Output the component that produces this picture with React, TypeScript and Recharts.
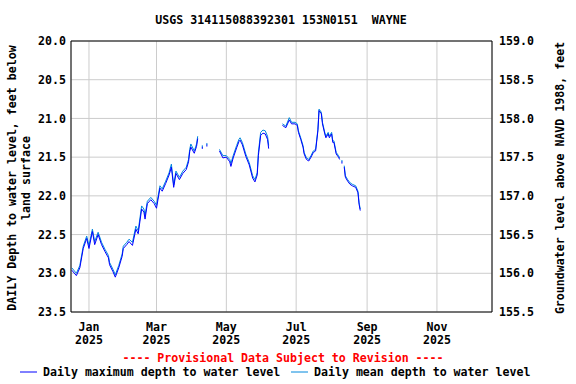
import React from 'react';
import {
  ComposedChart,
  Line,
  XAxis,
  YAxis,
  CartesianGrid,
  ReferenceLine,
} from 'recharts';

// daily readings, sampled from the hydrograph (depth below land surface, ft)
const DATES = [
  '2024-12-17', '2024-12-21', '2024-12-24', '2024-12-27', '2024-12-30',
  '2025-01-01', '2025-01-04', '2025-01-06', '2025-01-09', '2025-01-12',
  '2025-01-15', '2025-01-18', '2025-01-19', '2025-01-22', '2025-01-24',
  '2025-01-27', '2025-01-30', '2025-01-31', '2025-02-03', '2025-02-05',
  '2025-02-08', '2025-02-11', '2025-02-13', '2025-02-16', '2025-02-18',
  '2025-02-19', '2025-02-21', '2025-02-24', '2025-02-27', '2025-03-01',
  '2025-03-04', '2025-03-06', '2025-03-09', '2025-03-12', '2025-03-14',
  '2025-03-16', '2025-03-18', '2025-03-21', '2025-03-24', '2025-03-27',
  '2025-03-29', '2025-03-30', '2025-03-31', '2025-04-03', '2025-04-05',
  '2025-04-06', '2025-04-08', '2025-04-10', '2025-04-12', '2025-04-14',
  '2025-04-17', '2025-04-25', '2025-04-28', '2025-05-01', '2025-05-04',
  '2025-05-05', '2025-05-07', '2025-05-10', '2025-05-12', '2025-05-13',
  '2025-05-15', '2025-05-18', '2025-05-21', '2025-05-24', '2025-05-26',
  '2025-05-28', '2025-05-29', '2025-05-31', '2025-06-02', '2025-06-04',
  '2025-06-06', '2025-06-07', '2025-06-12', '2025-06-19', '2025-06-22',
  '2025-06-25', '2025-06-27', '2025-06-30', '2025-07-02', '2025-07-03',
  '2025-07-05', '2025-07-07', '2025-07-08', '2025-07-10', '2025-07-12',
  '2025-07-14', '2025-07-16', '2025-07-18', '2025-07-20', '2025-07-21',
  '2025-07-23', '2025-07-24', '2025-07-26', '2025-07-27', '2025-07-29',
  '2025-07-30', '2025-08-01', '2025-08-02', '2025-08-03', '2025-08-05',
  '2025-08-07', '2025-08-08', '2025-08-09', '2025-08-10', '2025-08-11',
  '2025-08-12', '2025-08-13', '2025-08-15', '2025-08-17', '2025-08-19',
  '2025-08-22', '2025-08-24', '2025-08-25', '2025-08-26',
];

const MEAN_DEPTH = [
  22.93, 23.0, 22.9, 22.65, 22.52,
  22.64, 22.43, 22.59, 22.47, 22.6,
  22.69, 22.77, 22.86, 22.95, 23.02,
  22.9, 22.75, 22.65, 22.6, 22.56,
  22.6, 22.39, 22.45, 22.13, 22.17,
  22.25, 22.07, 22.02, 22.07, 22.12,
  21.87, 21.91, 21.81, 21.7, 21.59,
  21.86, 21.68, 21.76, 21.68, 21.63,
  21.53, 21.4, 21.33, 21.42, 21.33,
  21.23, null, 21.36, null, 21.33,
  null, 21.4, 21.48, 21.48, 21.53,
  21.58, 21.48, 21.35, 21.27, 21.25,
  21.31, 21.46, 21.57, 21.74, 21.79,
  21.7, 21.44, 21.18, 21.15, 21.16,
  21.23, 21.35, null, 21.07, 21.1,
  20.99, 21.05, 21.05, 21.07, 21.16,
  21.25, 21.35, 21.44, 21.51, 21.53,
  21.48, 21.42, 21.4, 21.14, 20.88,
  20.92, 21.05, 21.18, 21.23, 21.18,
  21.23, 21.18, 21.29, 21.29, 21.44,
  21.48, 21.51, null, 21.55, null,
  21.61, 21.74, 21.79, 21.83, 21.85,
  21.87, 21.94, 22.09, 22.17,
];

const MAX_DEPTH = [
  22.96, 23.03, 22.93, 22.68, 22.55,
  22.68, 22.46, 22.63, 22.5, 22.63,
  22.72, 22.8, 22.89, 22.98, 23.05,
  22.93, 22.78, 22.68, 22.63, 22.59,
  22.64, 22.43, 22.49, 22.17, 22.21,
  22.3, 22.1, 22.05, 22.1, 22.16,
  21.9, 21.94, 21.84, 21.73, 21.63,
  21.89, 21.71, 21.79, 21.71, 21.66,
  21.56, 21.43, 21.37, 21.45, 21.36,
  21.26, null, 21.38, null, 21.35,
  null, 21.42, 21.51, 21.5, 21.56,
  21.62, 21.51, 21.38, 21.3, 21.28,
  21.34, 21.49, 21.6, 21.77, 21.82,
  21.73, 21.48, 21.22, 21.19, 21.2,
  21.27, 21.39, null, 21.09, 21.12,
  21.02, 21.07, 21.07, 21.09, 21.18,
  21.27, 21.37, 21.46, 21.53, 21.55,
  21.5, 21.44, 21.42, 21.16, 20.9,
  20.94, 21.07, 21.2, 21.25, 21.2,
  21.25, 21.2, 21.31, 21.31, 21.46,
  21.5, 21.53, null, 21.57, null,
  21.63, 21.76, 21.81, 21.85, 21.87,
  21.89, 21.96, 22.11, 22.19,
];

const X_TICK_DATES = ['2025-01-01', '2025-03-01', '2025-05-01', '2025-07-01', '2025-09-01', '2025-11-01'];
const X_TICK_MONTHS = ['Jan', 'Mar', 'May', 'Jul', 'Sep', 'Nov'];
const X_TICK_YEARS = ['2025', '2025', '2025', '2025', '2025', '2025'];
const DEPTH_TICKS = [20, 20.5, 21, 21.5, 22, 22.5, 23, 23.5];
const ELEV_TICKS = [155.5, 156, 156.5, 157, 157.5, 158, 158.5, 159];

const FONT = "'DejaVu Sans Mono', 'Liberation Mono', monospace";
const MAX_COLOR = '#0000ff';
const MEAN_COLOR = '#0088dd';

const dayOf = (s: string) => (Date.parse(s) - Date.parse('2025-01-01')) / 86400000;

const data = DATES.map((d, i) => ({
  day: dayOf(d),
  mean: MEAN_DEPTH[i],
  max: MAX_DEPTH[i],
}));

// single readings with gaps on both sides get drawn as dots
const isolated = (arr: (number | null)[], i: number) =>
  arr[i] != null && arr[i - 1] == null && arr[i + 1] == null;

const makeDot = (arr: (number | null)[], color: string) => (props: any) => {
  const { cx, cy, index } = props;
  if (cx == null || cy == null || !isolated(arr, index)) return <g key={`d-${index}`} />;
  return <rect key={`d-${index}`} x={cx - 0.5} y={cy - 1} width={1} height={2} fill={color} />;
};

const xTicks = X_TICK_DATES.map(dayOf);

const XTick = ({ x, y, payload }: any) => {
  const i = xTicks.indexOf(payload.value);
  return (
    <text x={x} y={y} textAnchor="middle" fontFamily={FONT} fontWeight="bold" fontSize={11.6} fill="#000">
      <tspan x={x} dy={18.5}>{X_TICK_MONTHS[i]}</tspan>
      <tspan x={x} dy={13}>{X_TICK_YEARS[i]}</tspan>
    </text>
  );
};

const tickStyle = { fontFamily: FONT, fontWeight: 'bold', fontSize: 11.6, fill: '#000' };

const App: React.FC = () => {
  return (
    <div style={{ position: 'absolute', left: 0, top: 0, width: 576, height: 384, background: '#fff' }}>
      <ComposedChart
        width={576}
        height={384}
        data={data}
        margin={{ top: 41, right: 0, bottom: 0, left: 0 }}
      >
        <CartesianGrid stroke="#cccccc" strokeWidth={1} />
        <XAxis
          dataKey="day"
          type="number"
          domain={[-15.7, 352.1]}
          ticks={xTicks}
          allowDataOverflow
          height={72}
          tickLine={false}
          tickSize={0}
          tickMargin={0}
          axisLine={{ stroke: '#000' }}
          tick={<XTick />}
        />
        <YAxis
          reversed
          type="number"
          domain={[20, 23.5]}
          ticks={DEPTH_TICKS}
          allowDataOverflow
          width={71}
          tickLine={false}
          tickSize={5}
          tickMargin={0}
          axisLine={{ stroke: '#000' }}
          tick={tickStyle}
          tickFormatter={(v: number) => v.toFixed(1)}
        />
        <YAxis
          yAxisId="right"
          orientation="right"
          type="number"
          domain={[155.5, 159]}
          ticks={ELEV_TICKS}
          allowDataOverflow
          width={84}
          tickLine={false}
          tickSize={7}
          tickMargin={0}
          axisLine={{ stroke: '#000' }}
          tick={tickStyle}
          tickFormatter={(v: number) => v.toFixed(1)}
        />
        <ReferenceLine y={20} stroke="#000" strokeWidth={1} />
        <Line
          type="linear"
          dataKey="mean"
          stroke={MEAN_COLOR}
          strokeWidth={1}
          connectNulls={false}
          dot={makeDot(MEAN_DEPTH, MEAN_COLOR)}
          activeDot={false}
          isAnimationActive={false}
        />
        <Line
          type="linear"
          dataKey="max"
          stroke={MAX_COLOR}
          strokeWidth={1}
          connectNulls={false}
          dot={makeDot(MAX_DEPTH, MAX_COLOR)}
          activeDot={false}
          isAnimationActive={false}
        />
      </ComposedChart>
      <svg
        width={576}
        height={384}
        style={{ position: 'absolute', left: 0, top: 0, pointerEvents: 'none' }}
        fontFamily={FONT}
        fontWeight="bold"
        fontSize={11.6}
      >
        <text x={281} y={23.5} textAnchor="middle" fill="#000" style={{ whiteSpace: 'pre' }}>
          USGS 314115088392301 153N0151  WAYNE
        </text>
        <text transform="translate(16,178) rotate(-90)" textAnchor="middle" fill="#000">
          DAILY Depth to water level, feet below
        </text>
        <text transform="translate(30,178) rotate(-90)" textAnchor="middle" fill="#000">
          land surface
        </text>
        <text transform="translate(564,178) rotate(-90)" textAnchor="middle" fill="#000">
          Groundwater level above NAVD 1988, feet
        </text>
        <text x={283} y={362} textAnchor="middle" fill="#ff0000">
          ---- Provisional Data Subject to Revision ----
        </text>
        <line x1={20} x2={37} y1={372} y2={372} stroke={MAX_COLOR} strokeWidth={1} />
        <text x={43} y={376} fill="#000">Daily maximum depth to water level</text>
        <line x1={291} x2={308} y1={372} y2={372} stroke={MEAN_COLOR} strokeWidth={1} />
        <text x={314} y={376} fill="#000">Daily mean depth to water level</text>
      </svg>
    </div>
  );
};

export default App;
